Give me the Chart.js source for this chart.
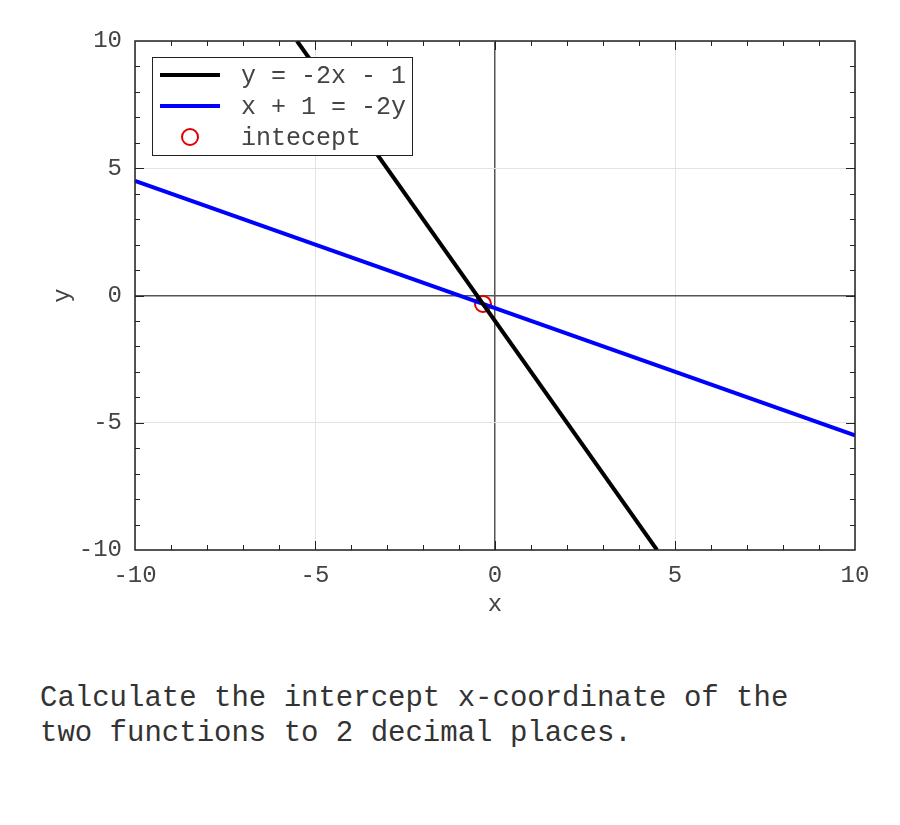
<!DOCTYPE html>
<html>
<head>
<meta charset="utf-8">
<script src="https://cdn.jsdelivr.net/npm/chart.js@4.4.0/dist/chart.umd.min.js"></script>
<style>
  body { margin: 0; background: #fff; width: 900px; height: 825px; position: relative; overflow: hidden; }
  #wrap { position: absolute; left: 0; top: 0; width: 900px; height: 650px; }
  #question { position: absolute; left: 40px; top: 681px; font-family: "Liberation Mono", monospace; font-size: 29px; line-height: 35px; color: #333; white-space: pre; }
</style>
</head>
<body>
<div id="wrap"><canvas id="chart" width="900" height="650"></canvas></div>
<div id="question">Calculate the intercept x-coordinate of the
two functions to 2 decimal places.</div>
<script>
// data
const seriesLabels = ['y = -2x - 1', 'x + 1 = -2y', 'intecept'];
const blackX = [-5.5, 4.5];
const blackY = [10, -10];
const blueX = [-10, 10];
const blueY = [4.5, -5.5];
const interX = [-0.333];
const interY = [-0.333];
const axisMin = -10;
const axisMax = 10;
const minorTicks = [-9, -8, -7, -6, -5, -4, -3, -2, -1, 0, 1, 2, 3, 4, 5, 6, 7, 8, 9];

const FONT = '"Liberation Mono", monospace';
const TXT = '#444';
const toPoints = (xs, ys) => xs.map((x, i) => ({ x: x, y: ys[i] }));

// frame + inward minor ticks
const frameTicks = {
  id: 'frameTicks',
  afterDraw(chart) {
    const { ctx, chartArea: a, scales } = chart;
    ctx.save();
    ctx.strokeStyle = '#222';
    ctx.lineWidth = 1;
    minorTicks.forEach(v => {
      const len = v % 5 === 0 ? 9 : 5;
      const px = Math.round(scales.x.getPixelForValue(v)) + 0.5;
      const py = Math.round(scales.y.getPixelForValue(v)) + 0.5;
      ctx.beginPath();
      ctx.moveTo(px, a.bottom); ctx.lineTo(px, a.bottom - len);
      ctx.moveTo(px, a.top); ctx.lineTo(px, a.top + len);
      ctx.moveTo(a.left, py); ctx.lineTo(a.left + len, py);
      ctx.moveTo(a.right, py); ctx.lineTo(a.right - len, py);
      ctx.stroke();
    });
    ctx.lineWidth = 1.5;
    ctx.strokeRect(a.left, a.top, a.right - a.left, a.bottom - a.top);
    ctx.restore();
  }
};

// legend box inside the plot
const boxLegend = {
  id: 'boxLegend',
  afterDatasetsDraw(chart) {
    const { ctx, chartArea: a } = chart;
    const x0 = a.left + 17, y0 = a.top + 16, w = 260, h = 98;
    ctx.save();
    ctx.fillStyle = '#fff';
    ctx.fillRect(x0, y0, w, h);
    ctx.strokeStyle = '#222';
    ctx.lineWidth = 1;
    ctx.strokeRect(x0 + 0.5, y0 + 0.5, w, h);
    ctx.font = '25px ' + FONT;
    ctx.textBaseline = 'middle';
    ctx.fillStyle = TXT;
    chart.data.datasets.forEach((ds, i) => {
      const y = y0 + 18 + i * 31;
      if (ds.showLine) {
        ctx.strokeStyle = ds.borderColor;
        ctx.lineWidth = 4;
        ctx.beginPath();
        ctx.moveTo(x0 + 8, y); ctx.lineTo(x0 + 68, y);
        ctx.stroke();
      } else {
        ctx.strokeStyle = ds.borderColor;
        ctx.lineWidth = 2;
        ctx.beginPath();
        ctx.arc(x0 + 38, y, 8, 0, Math.PI * 2);
        ctx.stroke();
      }
      ctx.fillText(ds.label, x0 + 89, y + 1);
    });
    ctx.restore();
  }
};

const ctx = document.getElementById('chart').getContext('2d');
const chart = new Chart(ctx, {
  type: 'scatter',
  data: {
    datasets: [
      { label: seriesLabels[0], data: toPoints(blackX, blackY), showLine: true, borderColor: '#000', borderWidth: 4, pointRadius: 0 },
      { label: seriesLabels[1], data: toPoints(blueX, blueY), showLine: true, borderColor: '#0000ff', borderWidth: 4, pointRadius: 0 },
      { label: seriesLabels[2], data: toPoints(interX, interY), showLine: false, borderColor: '#e00000', backgroundColor: 'rgba(0,0,0,0)', borderWidth: 2, pointRadius: 8 }
    ]
  },
  options: {
    responsive: false,
    animation: false,
    layout: { padding: { left: 44, top: 41, right: 45, bottom: 27 } },
    plugins: { legend: { display: false }, tooltip: { enabled: false } },
    scales: {
      x: {
        type: 'linear', min: axisMin, max: axisMax,
        afterFit: s => { s.height = 73; },
        border: { display: false },
        grid: {
          drawTicks: false,
          color: c => c.tick.value === 0 ? '#555' : '#e3e3e3',
          lineWidth: c => c.tick.value === 0 ? 1.5 : 1
        },
        ticks: { stepSize: 5, padding: 11, color: TXT, font: { family: FONT, size: 24 } },
        title: { display: true, text: 'x', color: TXT, font: { family: FONT, size: 24 } }
      },
      y: {
        type: 'linear', min: axisMin, max: axisMax,
        afterFit: s => { s.width = 91; },
        border: { display: false },
        grid: {
          drawTicks: false,
          color: c => c.tick.value === 0 ? '#555' : '#e3e3e3',
          lineWidth: c => c.tick.value === 0 ? 1.5 : 1
        },
        ticks: { stepSize: 5, padding: 13, color: TXT, font: { family: FONT, size: 24 } },
        title: { display: true, text: 'y', color: TXT, font: { family: FONT, size: 24 } }
      }
    }
  },
  plugins: [frameTicks, boxLegend]
});
</script>
</body>
</html>
